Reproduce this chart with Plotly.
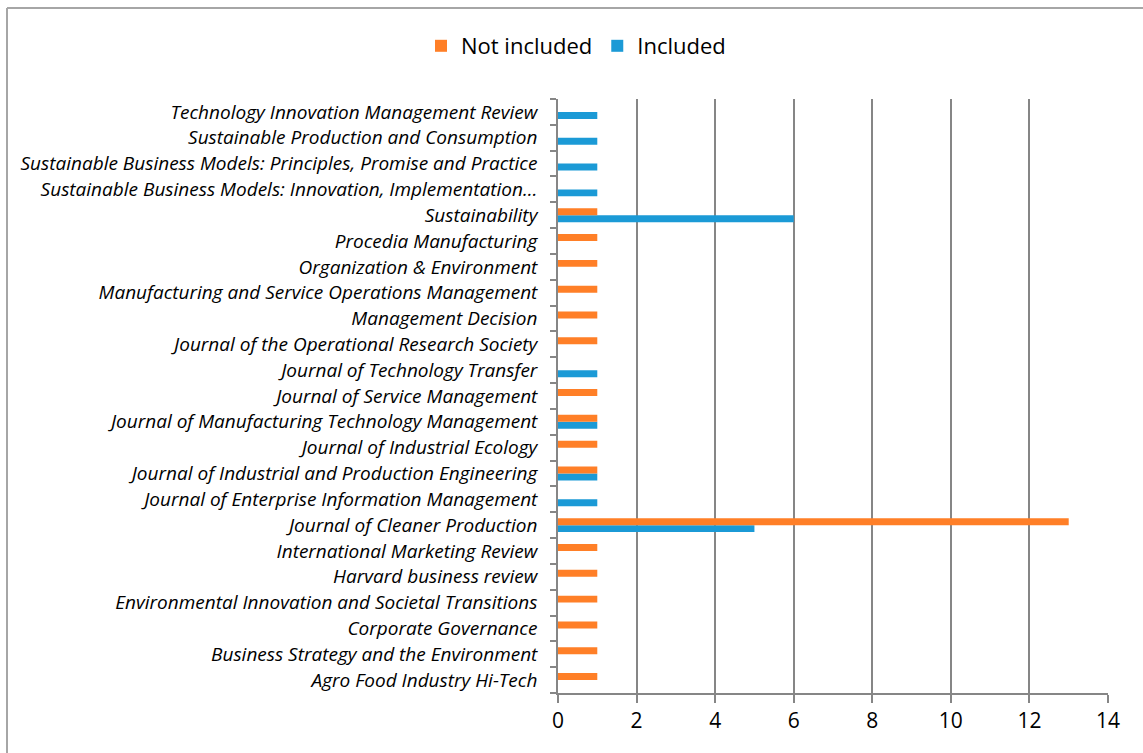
import plotly.graph_objects as go

categories = [
    "Agro Food Industry Hi-Tech",
    "Business Strategy and the Environment",
    "Corporate Governance",
    "Environmental Innovation and Societal Transitions",
    "Harvard business review",
    "International Marketing Review",
    "Journal of Cleaner Production",
    "Journal of Enterprise Information Management",
    "Journal of Industrial and Production Engineering",
    "Journal of Industrial Ecology",
    "Journal of Manufacturing Technology Management",
    "Journal of Service Management",
    "Journal of Technology Transfer",
    "Journal of the Operational Research Society",
    "Management Decision",
    "Manufacturing and Service Operations Management",
    "Organization & Environment",
    "Procedia Manufacturing",
    "Sustainability",
    "Sustainable Business Models: Innovation, Implementation…",
    "Sustainable Business Models: Principles, Promise and Practice",
    "Sustainable Production and Consumption",
    "Technology Innovation Management Review",
]
not_included = [1, 1, 1, 1, 1, 1, 13, 0, 1, 1, 1, 1, 0, 1, 1, 1, 1, 1, 1, 0, 0, 0, 0]
included = [0, 0, 0, 0, 0, 0, 5, 1, 1, 0, 1, 0, 1, 0, 0, 0, 0, 0, 6, 1, 1, 1, 1]
x_ticks = [0, 2, 4, 6, 8, 10, 12, 14]

ORANGE = "#FF7F27"
BLUE = "#1B9AD6"
GRID = "#868686"
FONT = "Open Sans"

fig = go.Figure()
fig.add_trace(go.Bar(y=categories, x=included, orientation="h", name="Included",
                     marker=dict(color=BLUE, line=dict(width=0))))
fig.add_trace(go.Bar(y=categories, x=not_included, orientation="h", name="Not included",
                     marker=dict(color=ORANGE, line=dict(width=0))))

W, H = 1143, 753
ml, mr, mt, mb = 558, 35, 99, 60
pw, ph = W - ml - mr, H - mt - mb

def px_x(p):
    return (p - ml) / pw

def px_y(p):
    return (H - mb - p) / ph

fig.update_layout(
    width=W, height=H,
    margin=dict(l=ml, r=mr, t=mt, b=mb, pad=0, autoexpand=False),
    paper_bgcolor="white", plot_bgcolor="white",
    barmode="group", bargap=0.46, bargroupgap=0,
    font=dict(family=FONT, color="#000000"),
    legend=dict(orientation="h", traceorder="reversed", x=px_x(576), xanchor="center",
                y=px_y(46), yanchor="middle",
                font=dict(family=FONT, size=22, color="#000000")),
    xaxis=dict(range=[0, 14], tickvals=x_ticks, showgrid=True, gridcolor=GRID, gridwidth=2,
               zeroline=False, showline=True, linecolor=GRID, linewidth=2,
               ticks="outside", ticklen=8, tickcolor=GRID, tickwidth=2,
               tickfont=dict(family=FONT, size=21, color="#000000"), fixedrange=True,
               automargin=False),
    yaxis=dict(type="category", categoryorder="array", categoryarray=categories,
               showgrid=False, zeroline=False, showline=True, linecolor=GRID, linewidth=2,
               ticks="outside", ticklen=6, tickcolor=GRID, tickwidth=2, tickson="boundaries",
               ticksuffix="\u00a0\u00a0\u00a0",
               tickfont=dict(family=FONT, size=19, color="#000000", style="italic"),
               fixedrange=True, automargin=False),
    shapes=[
        dict(type="line", xref="paper", yref="paper", x0=px_x(7), x1=px_x(1200), y0=px_y(8), y1=px_y(8),
             line=dict(color="#A6A6A6", width=2)),
        dict(type="line", xref="paper", yref="paper", x0=px_x(7), x1=px_x(7), y0=px_y(8), y1=px_y(800),
             line=dict(color="#A6A6A6", width=2)),
    ],
)

fig.write_html("out.html")
